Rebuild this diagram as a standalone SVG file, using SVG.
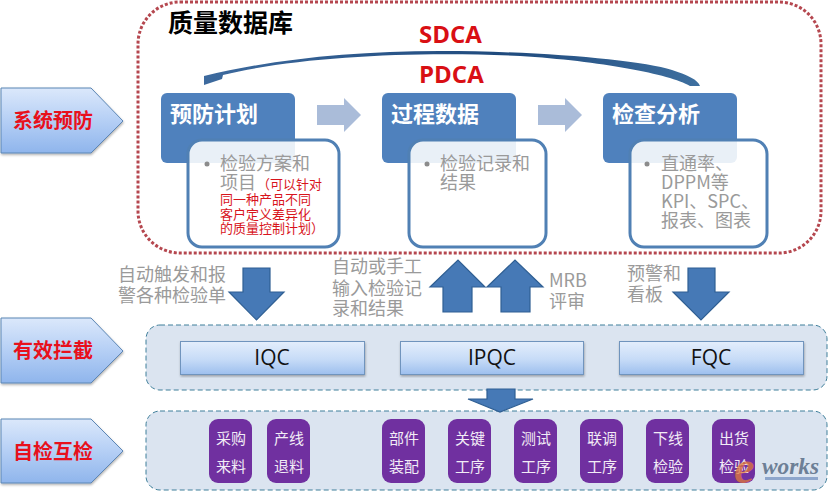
<svg xmlns="http://www.w3.org/2000/svg" width="829" height="492" viewBox="0 0 829 492">
<defs>
<linearGradient id="gp" x1="0" y1="0" x2="0" y2="1"><stop offset="0" stop-color="#dbe8fb"/><stop offset="0.5" stop-color="#b5cff5"/><stop offset="1" stop-color="#8fb5ec"/></linearGradient>
<linearGradient id="gb" x1="0" y1="0" x2="0" y2="1"><stop offset="0" stop-color="#e4eefc"/><stop offset="0.55" stop-color="#c6dbf7"/><stop offset="1" stop-color="#9dbfee"/></linearGradient>
<linearGradient id="gc" x1="0" y1="0" x2="1" y2="0"><stop offset="0" stop-color="#3d6a9e"/><stop offset="0.6" stop-color="#1f4a7d"/><stop offset="1" stop-color="#3e6f9f"/></linearGradient>
<filter id="sh" x="-5%" y="-5%" width="112%" height="115%"><feDropShadow dx="0.5" dy="1.5" stdDeviation="1" flood-color="#000" flood-opacity="0.3"/></filter>
<style>
text{font-family:"Noto Sans CJK SC","Liberation Sans",sans-serif}
.pent{fill:url(#gp);stroke:#5b86b5;stroke-width:1;filter:url(#sh)}
.side{font-size:20px;font-weight:700;fill:#e8101c;text-anchor:middle}
.head{fill:#4f81bd}
.ht{font-size:22px;font-weight:700;fill:#fff}
.card{fill:#fff;fill-opacity:.88;stroke:#5080b4;stroke-width:3}
.body{font-size:18px;fill:#9a9a9a}
.red{font-size:13px;fill:#d8141c}
.dot{fill:#8c8c8c}
.light{fill:#aabcd9}
.band{fill:#dbe4f0;stroke:#3f7f9a;stroke-width:1;stroke-dasharray:5 3}
.box{fill:url(#gb);stroke:#6f94bd;stroke-width:1;filter:url(#sh)}
.bt{font-size:21px;fill:#111;text-anchor:middle;font-family:"Open Sans","Liberation Sans",sans-serif}
.pur{fill:#7030a0}
.pt{font-size:15px;fill:#f2ecf6;text-anchor:middle}
.lab{font-size:18px;fill:#9a9a9a}
.big{fill:#4679b6;stroke:#2f5f93;stroke-width:1.2}
.cy{font-size:24px;font-weight:700;fill:#d90f14;font-family:"Open Sans","Liberation Sans",sans-serif}
</style>
</defs>
<rect width="829" height="492" fill="#fff"/>

<g id="database">
<rect x="138" y="2" width="683" height="251" rx="42" fill="#fff" stroke="#b5474f" stroke-width="3" stroke-dasharray="3 2"/>
<text x="168" y="32" font-size="25" font-weight="700" fill="#000">质量数据库</text>
</g>

<g id="cycle">
<path d="M204,85 L204,76 C270,60 350,51 440,51 C540,51 640,60 672,70 C688,75 698,80 700,86 L690,86 C670,74 600,61 520,56 C420,51 300,56 223,75 L222,79 Z" fill="url(#gc)"/>
<text id="sdca" x="419" y="43" class="cy">SDCA</text>
<text id="pdca" x="419" y="83" class="cy">PDCA</text>
</g>

<g id="connectors">
<polygon class="light" points="317,105 344,105 344,98 361,115 344,132 344,125 317,125"/>
<polygon class="light" points="538,105 565,105 565,98 582,115 565,132 565,125 538,125"/>
<polygon class="big" points="243,268 270,268 270,292 284,292 256.500,320 229,292 243,292"/>
<polygon class="big" points="443,312 472,312 472,287 485,287 458,260 430,287 443,287"/>
<polygon class="big" points="501,312 530,312 530,287 543,287 515,260 487,287 501,287"/>
<polygon class="big" points="688,268 715,268 715,292 729,292 701,320 673,292 688,292"/>
</g>

<g id="side-prevent"><polygon class="pent" points="1,88 91,88 123,121 91,153 1,153"/><text x="53" y="128" class="side">系统预防</text></g>
<g id="side-intercept"><polygon class="pent" points="1,318 91,318 123,351 91,383 1,383"/><text x="53" y="358" class="side">有效拦截</text></g>
<g id="side-self"><polygon class="pent" points="1,419 91,419 123,451 91,483 1,483"/><text x="53" y="459" class="side">自检互检</text></g>

<g id="plan">
<rect class="head" x="161" y="93" width="134" height="70" rx="6"/>
<text x="170" y="122" class="ht">预防计划</text>
<rect class="card" x="188" y="140" width="151" height="107" rx="14"/>
<circle class="dot" cx="207" cy="164" r="2.500"/>
<text x="220" y="170" class="body">检验方案和</text>
<text x="220" y="189" class="body">项目</text>
<text x="257" y="189" class="red">（可以针对</text>
<text x="220" y="204" class="red">同一种产品不同</text>
<text x="220" y="219" class="red">客户定义差异化</text>
<text x="220" y="233" class="red">的质量控制计划）</text>
</g>
<g id="process">
<rect class="head" x="382" y="93" width="134" height="70" rx="6"/>
<text x="391" y="122" class="ht">过程数据</text>
<rect class="card" x="409" y="140" width="137" height="107" rx="14"/>
<circle class="dot" cx="427" cy="164" r="2.500"/>
<text x="440" y="170" class="body">检验记录和</text>
<text x="440" y="189" class="body">结果</text>
</g>
<g id="analysis">
<rect class="head" x="603" y="93" width="134" height="70" rx="6"/>
<text x="612" y="122" class="ht">检查分析</text>
<rect class="card" x="630" y="140" width="137" height="107" rx="14"/>
<circle class="dot" cx="647" cy="164" r="2.500"/>
<text x="661" y="170" class="body">直通率、</text>
<text x="661" y="189" class="body">DPPM等</text>
<text x="661" y="208" class="body">KPI、SPC、</text>
<text x="661" y="227" class="body">报表、图表</text>
</g>

<g id="labels">
<text x="118" y="281" class="lab">自动触发和报</text>
<text x="118" y="302" class="lab">警各种检验单</text>
<text x="332" y="273" class="lab">自动或手工</text>
<text x="332" y="295" class="lab">输入检验记</text>
<text x="332" y="315" class="lab">录和结果</text>
<text x="549" y="287" class="lab">MRB</text>
<text x="549" y="308" class="lab">评审</text>
<text x="627" y="280" class="lab">预警和</text>
<text x="627" y="301" class="lab">看板</text>
</g>

<g id="band-intercept">
<rect class="band" x="146" y="325" width="681" height="65" rx="14"/>
<g id="iqc"><rect class="box" x="180.500" y="341.500" width="184" height="33"/><text x="272" y="365" class="bt">IQC</text></g>
<g id="ipqc"><rect class="box" x="400.500" y="341.500" width="183" height="33"/><text x="492" y="365" class="bt">IPQC</text></g>
<g id="fqc"><rect class="box" x="619.500" y="341.500" width="184" height="33"/><text x="711" y="365" class="bt">FQC</text></g>
</g>

<g id="band-self">
<rect class="band" x="146" y="411" width="681" height="79" rx="14"/>
<g id="n1"><rect class="pur" x="209" y="419" width="43" height="64" rx="9"/><text x="231" y="444" class="pt">采购</text><text x="231" y="472" class="pt">来料</text></g>
<g id="n2"><rect class="pur" x="267" y="419" width="43" height="64" rx="9"/><text x="289" y="444" class="pt">产线</text><text x="289" y="472" class="pt">退料</text></g>
<g id="n3"><rect class="pur" x="382" y="419" width="43" height="64" rx="9"/><text x="404" y="444" class="pt">部件</text><text x="404" y="472" class="pt">装配</text></g>
<g id="n4"><rect class="pur" x="448" y="419" width="43" height="64" rx="9"/><text x="470" y="444" class="pt">关键</text><text x="470" y="472" class="pt">工序</text></g>
<g id="n5"><rect class="pur" x="514" y="419" width="43" height="64" rx="9"/><text x="536" y="444" class="pt">测试</text><text x="536" y="472" class="pt">工序</text></g>
<g id="n6"><rect class="pur" x="580" y="419" width="43" height="64" rx="9"/><text x="602" y="444" class="pt">联调</text><text x="602" y="472" class="pt">工序</text></g>
<g id="n7"><rect class="pur" x="646" y="419" width="43" height="64" rx="9"/><text x="668" y="444" class="pt">下线</text><text x="668" y="472" class="pt">检验</text></g>
<g id="n8"><rect class="pur" x="712" y="419" width="43" height="64" rx="9"/><text x="734" y="444" class="pt">出货</text><text x="734" y="472" class="pt">检验</text></g>
</g>

<g id="down-small"><polygon class="big" points="487,389 515,389 515,399 533,399 500,412 468,399 487,399"/></g>

<g id="watermark">
<text x="734" y="483" font-size="46" font-style="italic" font-weight="700" fill="#e0793a" fill-opacity=".75" style="font-family:'Liberation Serif',serif">e</text>
<text x="762" y="474" font-size="23" font-style="italic" font-weight="700" fill="#6d7f96" style="font-family:'Liberation Serif',serif" textLength="57" lengthAdjust="spacingAndGlyphs">works</text>
<rect x="765" y="477" width="53" height="3" fill="#8ea6cc"/>
</g>
</svg>
